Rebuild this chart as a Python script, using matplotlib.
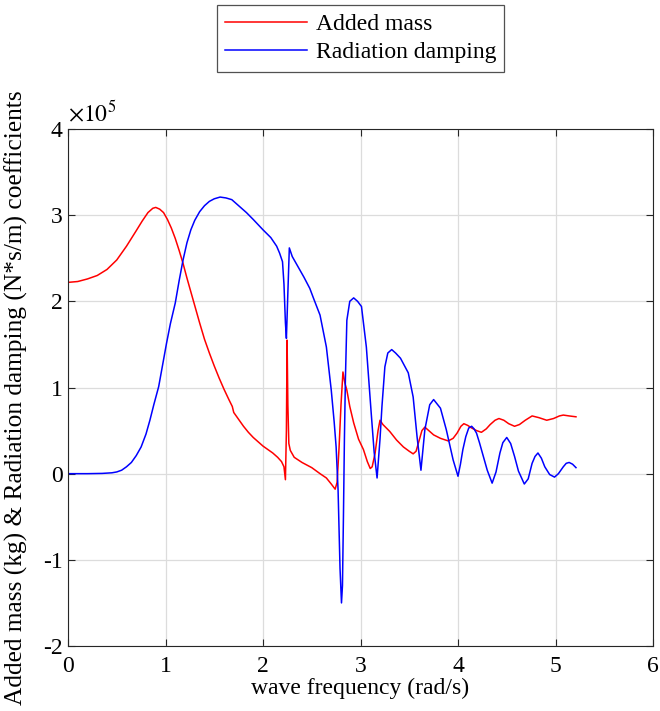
import matplotlib
matplotlib.use("Agg")
import matplotlib.pyplot as plt
import numpy as np

# Added mass (x1e5 kg) vs wave frequency (rad/s)
freq_am = [0.00, 0.10, 0.20, 0.30, 0.40, 0.50, 0.60, 0.70, 0.76, 0.82, 0.87, 0.90,
           0.94, 0.98, 1.02, 1.06, 1.10, 1.14, 1.18, 1.22, 1.26, 1.30, 1.35, 1.40,
           1.45, 1.50, 1.55, 1.60, 1.65, 1.685, 1.70, 1.75, 1.80, 1.85, 1.90, 1.95,
           2.00, 2.05, 2.10, 2.15, 2.19, 2.215, 2.23, 2.24, 2.247, 2.255, 2.265, 2.28,
           2.32, 2.40, 2.50, 2.585, 2.65, 2.70, 2.74, 2.76, 2.78, 2.80, 2.82, 2.84,
           2.86, 2.89, 2.93, 2.98, 3.03, 3.07, 3.10, 3.12, 3.15, 3.18, 3.20, 3.23,
           3.30, 3.37, 3.44, 3.50, 3.54, 3.57, 3.60, 3.63, 3.66, 3.70, 3.75, 3.82,
           3.90, 3.95, 3.99, 4.03, 4.06, 4.10, 4.14, 4.19, 4.24, 4.29, 4.33, 4.38,
           4.42, 4.47, 4.52, 4.58, 4.63, 4.69, 4.76, 4.83, 4.91, 4.98, 5.04, 5.08,
           5.14, 5.21]
added_mass = [2.22, 2.23, 2.26, 2.30, 2.37, 2.48, 2.64, 2.82, 2.93, 3.03, 3.08, 3.09,
              3.07, 3.03, 2.95, 2.85, 2.73, 2.59, 2.44, 2.27, 2.11, 1.95, 1.75, 1.56,
              1.40, 1.25, 1.11, 0.98, 0.86, 0.78, 0.71, 0.63, 0.55, 0.48, 0.42, 0.37,
              0.32, 0.28, 0.24, 0.19, 0.14, 0.08, -0.07, 0.50, 1.55, 0.80, 0.35, 0.27,
              0.19, 0.13, 0.07, 0.00, -0.05, -0.12, -0.18, -0.10, 0.30, 0.80, 1.18, 1.05,
              0.97, 0.78, 0.59, 0.40, 0.28, 0.14, 0.06, 0.08, 0.24, 0.50, 0.62, 0.57,
              0.49, 0.39, 0.31, 0.26, 0.23, 0.26, 0.38, 0.50, 0.54, 0.50, 0.45, 0.41,
              0.38, 0.41, 0.47, 0.55, 0.58, 0.56, 0.53, 0.50, 0.48, 0.52, 0.57, 0.62,
              0.64, 0.62, 0.58, 0.55, 0.57, 0.62, 0.67, 0.65, 0.62, 0.64, 0.67, 0.68,
              0.67, 0.66]

# Radiation damping (x1e5 N*s/m) vs wave frequency (rad/s)
freq_rd = [0.00, 0.20, 0.35, 0.45, 0.50, 0.55, 0.60, 0.65, 0.70, 0.75, 0.80, 0.84,
           0.88, 0.93, 0.97, 1.01, 1.05, 1.10, 1.14, 1.18, 1.22, 1.26, 1.30, 1.35,
           1.40, 1.45, 1.50, 1.56, 1.62, 1.68, 1.75, 1.83, 1.90, 2.00, 2.08, 2.14,
           2.17, 2.20, 2.215, 2.23, 2.24, 2.255, 2.27, 2.30, 2.36, 2.42, 2.48, 2.52,
           2.585, 2.65, 2.70, 2.73, 2.75, 2.77, 2.79, 2.805, 2.815, 2.825, 2.835, 2.845,
           2.86, 2.89, 2.93, 2.97, 3.01, 3.06, 3.11, 3.14, 3.17, 3.20, 3.22, 3.25,
           3.28, 3.32, 3.36, 3.41, 3.49, 3.54, 3.58, 3.62, 3.66, 3.71, 3.75, 3.82,
           3.88, 3.95, 4.00, 4.025, 4.05, 4.08, 4.11, 4.14, 4.165, 4.19, 4.22, 4.26,
           4.30, 4.35, 4.39, 4.43, 4.46, 4.50, 4.54, 4.58, 4.62, 4.68, 4.72, 4.76,
           4.79, 4.82, 4.855, 4.89, 4.94, 4.99, 5.03, 5.08, 5.11, 5.14, 5.175, 5.21]
rad_damping = [0.00, 0.00, 0.003, 0.01, 0.02, 0.04, 0.08, 0.13, 0.21, 0.31, 0.46, 0.62,
               0.80, 1.01, 1.26, 1.51, 1.74, 1.98, 2.24, 2.48, 2.68, 2.83, 2.94, 3.04,
               3.11, 3.16, 3.19, 3.21, 3.20, 3.18, 3.11, 3.03, 2.95, 2.83, 2.74, 2.64,
               2.56, 2.46, 2.20, 1.75, 1.57, 2.10, 2.62, 2.52, 2.40, 2.28, 2.15, 2.03,
               1.84, 1.47, 0.97, 0.60, 0.31, -0.19, -1.10, -1.50, -1.30, -0.50, 0.40, 1.09,
               1.78, 2.00, 2.04, 2.00, 1.94, 1.47, 0.70, 0.25, -0.05, 0.40, 0.78, 1.24,
               1.40, 1.44, 1.40, 1.34, 1.17, 0.89, 0.43, 0.04, 0.51, 0.80, 0.86, 0.76,
               0.51, 0.16, -0.03, 0.11, 0.28, 0.43, 0.53, 0.55, 0.52, 0.47, 0.36, 0.20,
               0.04, -0.11, 0.02, 0.24, 0.36, 0.42, 0.35, 0.20, 0.03, -0.12, -0.06, 0.12,
               0.20, 0.24, 0.18, 0.08, -0.01, -0.04, 0.00, 0.08, 0.12, 0.13, 0.11, 0.07]

x_ticks = [0, 1, 2, 3, 4, 5, 6]
y_ticks = [-2, -1, 0, 1, 2, 3, 4]
scale = 1e5

plt.rcParams['font.family'] = ['Liberation Serif', 'DejaVu Serif']
plt.rcParams['mathtext.fontset'] = 'stix'

fs = 17
fig = plt.figure(figsize=(6.6, 7.11), dpi=100)
ax = fig.add_axes([68/660, 65/711, 585/660, 517/711])

ax.plot(freq_am, np.array(added_mass) * scale, color='#ff0000', lw=1.1, label='Added mass')
ax.plot(freq_rd, np.array(rad_damping) * scale, color='#0000ff', lw=1.1, label='Radiation damping')

ax.set_xlim(0, 6)
ax.set_ylim(-2 * scale, 4 * scale)
ax.set_xticks(x_ticks)
ax.set_yticks([v * scale for v in y_ticks])
ax.set_yticklabels([str(v) for v in y_ticks])
ax.set_xticklabels([str(v) for v in x_ticks])

axc = '#262626'
ax.grid(True, color='#dcdcdc', lw=0.9)
ax.set_axisbelow(True)
for s in ax.spines.values():
    s.set_color(axc)
    s.set_linewidth(0.8)
ax.tick_params(direction='in', length=5, width=0.8, colors=axc, labelsize=fs,
               top=True, right=True, labelcolor='black')
ax.tick_params(axis='x', pad=7)
ax.tick_params(axis='y', pad=4)

ax.text(0.0, 1.006, r'$\times 10^{5}$', transform=ax.transAxes, fontsize=fs,
        ha='left', va='bottom')

ax.set_xlabel('wave frequency (rad/s)', fontsize=fs, labelpad=1)
ax.set_ylabel('Added mass (kg) & Radiation damping (N*s/m) coefficients', fontsize=18.3)
ax.yaxis.set_label_coords(-0.068, 0.48)

leg = ax.legend(loc='upper center', bbox_to_anchor=(0.5, 1 + (129 - 5) / 517.0),
                bbox_transform=ax.transAxes, fontsize=fs, frameon=True, fancybox=False,
                handlelength=3.5, handletextpad=0.35, borderpad=0.35, labelspacing=0.3,
                edgecolor=axc, borderaxespad=0)
leg.get_frame().set_linewidth(0.9)

fig.savefig('out.png', dpi=100)
